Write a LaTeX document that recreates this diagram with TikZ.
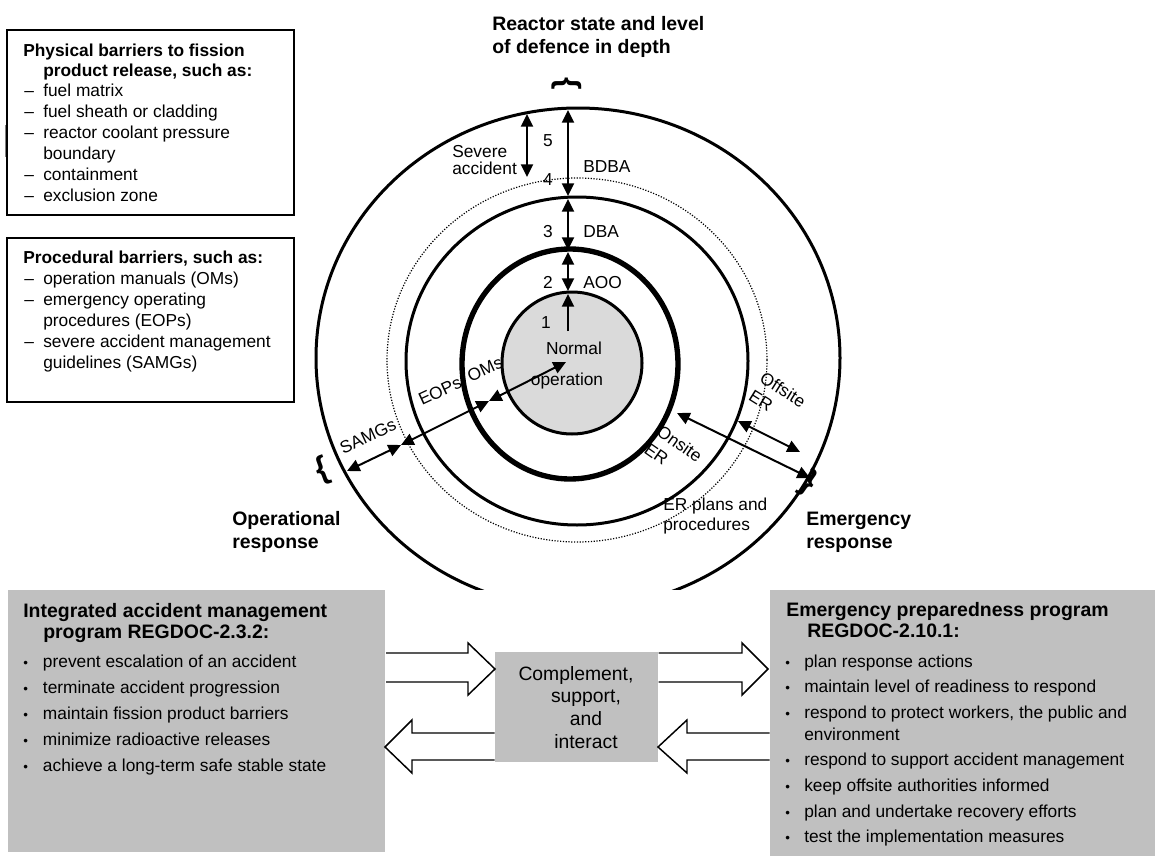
\documentclass[tikz,border=0pt]{standalone}
\usepackage{fontspec}
\setmainfont{Liberation Sans}
\usetikzlibrary{arrows.meta}
\definecolor{boxgray}{RGB}{192,192,192}
\definecolor{coregray}{RGB}{218,218,218}
\begin{document}
\begin{tikzpicture}[x=0.75pt,y=-0.75pt,
  tx/.style={font=\fontsize{13pt}{15.6pt}\selectfont, inner sep=0pt, anchor=base west},
  tbf/.style={font=\fontsize{13pt}{15.6pt}\selectfont\bfseries, inner sep=0pt, anchor=base west},
  hd/.style={font=\fontsize{14.6pt}{17.5pt}\selectfont\bfseries, inner sep=0pt, anchor=base west},
  lbl/.style={font=\fontsize{13pt}{15.6pt}\selectfont, inner sep=0pt},
  cx/.style={font=\fontsize{14.5pt}{17.4pt}\selectfont, inner sep=0pt, anchor=base},
  bul/.style={font=\fontsize{10pt}{12pt}\selectfont, inner sep=0pt, anchor=base west},
  dbl/.style={line width=1.5pt, {Triangle[length=9.5pt,width=9pt]}-{Triangle[length=9.5pt,width=9pt]}},
  sgl/.style={line width=1.5pt, -{Triangle[length=9.5pt,width=9pt]}},
  blk/.style={draw=black, line width=1.1pt, fill=white},
  brc/.style={font=\fontsize{24pt}{28pt}\selectfont\bfseries, inner sep=0pt},
  frame/.style={draw=black, line width=1.5pt},
]
\useasboundingbox (0,0) rectangle (1161,860);
\fill[white] (0,0) rectangle (1161,860);

% ---------- circles ----------
\begin{scope}
\clip (0,0) rectangle (1161,589);
\draw[line width=2.25pt] (578,358) ellipse [x radius=262, y radius=250];
\end{scope}
\draw[line width=0.9pt, dash pattern=on 0.9pt off 1.2pt] (577,360) ellipse [x radius=190, y radius=182];
\draw[line width=2.25pt] (577,361) ellipse [x radius=171, y radius=164];
\draw[line width=4pt] (570,364) ellipse [x radius=108, y radius=115];
\draw[line width=2.25pt, fill=coregray] (572,363) ellipse [x radius=70, y radius=71];

% ---------- arrow end points ----------
\coordinate (a1s) at (568,331); \coordinate (a1e) at (568,294);
\coordinate (a2s) at (568,252); \coordinate (a2e) at (568,291);
\coordinate (a3s) at (568,199); \coordinate (a3e) at (568,250);
\coordinate (a4s) at (568,110); \coordinate (a4e) at (568,196);
\coordinate (sas) at (527,114); \coordinate (sae) at (527,177);
\coordinate (omc) at (566,362); \coordinate (omt) at (489,401);
\coordinate (eop) at (401,445); \coordinate (sam) at (347,471);
\coordinate (ons) at (677,413); \coordinate (one) at (810,478);
\coordinate (ofs) at (738,421); \coordinate (ofe) at (800,452);

\draw[sgl] (a1s) -- (a1e);
\draw[dbl] (a2s) -- (a2e);
\draw[dbl] (a3s) -- (a3e);
\draw[dbl] (a4s) -- (a4e);
\draw[dbl] (sas) -- (sae);
\draw[dbl] (omt) -- (omc);
\draw[dbl] (eop) -- (omt);
\draw[dbl] (sam) -- (eop);
\draw[dbl] (ons) -- (one);
\draw[dbl] (ofs) -- (ofe);

% ---------- circle labels ----------
\node[lbl, anchor=base] (n5) at (548,146) {5};
\node[lbl, anchor=base] (n4) at (548,185) {4};
\node[lbl, anchor=base] (n3) at (548,237) {3};
\node[lbl, anchor=base] (n2) at (548,288) {2};
\node[lbl, anchor=base] (n1) at (546,328) {1};
\node[lbl, align=left, font=\fontsize{13pt}{12.75pt}\selectfont, anchor=west] (sev) at (452,160) {Severe\\accident};
\node[lbl, anchor=base west] (bdba) at (583,172) {BDBA};
\node[lbl, anchor=base west] (dba) at (583,237) {DBA};
\node[lbl, anchor=base west] (aoo) at (583,288) {AOO};
\node[lbl, anchor=base] (norm) at (574,354) {Normal};
\node[lbl, anchor=base] (oper) at (567,385) {operation};
\node[lbl, rotate=25] (samg) at (368,436) {SAMGs};
\node[lbl, rotate=25] (eops) at (440,391) {EOPs};
\node[lbl, rotate=25] (oms) at (485,369) {OMs};
\node[lbl, rotate=-32, align=left] (offs) at (777.5,398.5) {Offsite\\ER};
\node[lbl, rotate=-35, align=left, font=\fontsize{13pt}{16.5pt}\selectfont] (onst) at (673.5,452.5) {Onsite\\ER};
\node[lbl, align=left, font=\fontsize{13pt}{14.5pt}\selectfont, anchor=west] (erp) at (663,516) {ER plans and\\procedures};

% ---------- titles and braces ----------
\node[hd] (t1) at (492,30.5) {Reactor state and level};
\node[hd] (t2) at (492,53.5) {of defence in depth};
\node[brc, rotate=-90] (btop) at (567,84) {\{};
\node[brc, rotate=20] (bleft) at (323,471) {\{};
\node[brc, rotate=-35] (bright) at (808,483) {\}};
\node[hd] (op1) at (232,525.5) {Operational};
\node[hd] (op2) at (232,548.5) {response};
\node[hd] (em1) at (806,525.5) {Emergency};
\node[hd] (em2) at (806,548.5) {response};

% ---------- physical barriers box ----------
\draw[frame] (7,30) rectangle (294,215);
\draw[gray, line width=0.75pt] (5,125) -- (5,157);
\node[tbf] (p1) at (23,56) {Physical barriers to fission};
\node[tbf] (p2) at (43,76.7) {product release, such as:};
\node[tx] (p3d) at (24,96.7) {–}; \node[tx] (p3) at (43,96.7) {fuel matrix};
\node[tx] (p4d) at (24,117.7) {–}; \node[tx] (p4) at (43,117.7) {fuel sheath or cladding};
\node[tx] (p5d) at (24,138.7) {–}; \node[tx] (p5) at (43,138.7) {reactor coolant pressure};
\node[tx] (p6) at (43,159.7) {boundary};
\node[tx] (p7d) at (24,180.7) {–}; \node[tx] (p7) at (43,180.7) {containment};
\node[tx] (p8d) at (24,201.7) {–}; \node[tx] (p8) at (43,201.7) {exclusion zone};

% ---------- procedural barriers box ----------
\draw[frame] (7,238) rectangle (294,402);
\node[tbf] (q1) at (23,263.3) {Procedural barriers, such as:};
\node[tx] (q2d) at (24,284.3) {–}; \node[tx] (q2) at (43,284.3) {operation manuals (OMs)};
\node[tx] (q3d) at (24,305.3) {–}; \node[tx] (q3) at (43,305.3) {emergency operating};
\node[tx] (q4) at (43,326.3) {procedures (EOPs)};
\node[tx] (q5d) at (24,347.3) {–}; \node[tx] (q5) at (43,347.3) {severe accident management};
\node[tx] (q6) at (43,368.3) {guidelines (SAMGs)};

% ---------- bottom boxes ----------
\fill[boxgray] (8,590) rectangle (385,852);
\fill[boxgray] (770,590) rectangle (1155,856);
\fill[boxgray] (495,652) rectangle (658,762);

\node[hd] (ia1) at (23,617.3) {Integrated accident management};
\node[hd] (ia2) at (43,638.3) {program REGDOC-2.3.2:};
\foreach \yy/\tt [count=\i] in {667/{prevent escalation of an accident},
  693/{terminate accident progression},
  719/{maintain fission product barriers},
  745/{minimize radioactive releases},
  771/{achieve a long-term safe stable state}}{
  \node[bul] (iab\i) at (23,\yy) {•};
  \node[tx] (ia\i t) at (42.7,\yy) {\tt};
}

\node[hd] (ep1) at (786,616.7) {Emergency preparedness program};
\node[hd] (ep2) at (807,637.3) {REGDOC-2.10.1:};
\foreach \yy/\tt [count=\i] in {667.5/{plan response actions},
  692.5/{maintain level of readiness to respond},
  718.5/{respond to protect workers, the public and},
  765.5/{respond to support accident management},
  791.5/{keep offsite authorities informed},
  817.5/{plan and undertake recovery efforts},
  842.5/{test the implementation measures}}{
  \node[bul] (epb\i) at (785,\yy) {•};
  \node[tx] (ep\i t) at (804,\yy) {\tt};
}
\node[tx] (epenv) at (804,740.5) {environment};

\node[cx] (c1) at (576,680) {Complement,};
\node[cx] (c2) at (586,702.5) {support,};
\node[cx] (c3) at (586,725.5) {and};
\node[cx] (c4) at (586,748.5) {interact};

% ---------- block arrows ----------
\draw[blk] (386,653) -- (468,653) -- (468,643) -- (495,669) -- (468,695) -- (468,682) -- (386,682);
\draw[blk] (658.5,653) -- (742,653) -- (742,643) -- (768,669) -- (742,695) -- (742,682) -- (658.5,682);
\draw[blk] (494.5,733) -- (412,733) -- (412,720) -- (385,747) -- (412,773) -- (412,760) -- (494.5,760);
\draw[blk] (769.5,733) -- (687,733) -- (687,720) -- (658,747) -- (687,773) -- (687,760) -- (769.5,760);
\end{tikzpicture}
\end{document}
